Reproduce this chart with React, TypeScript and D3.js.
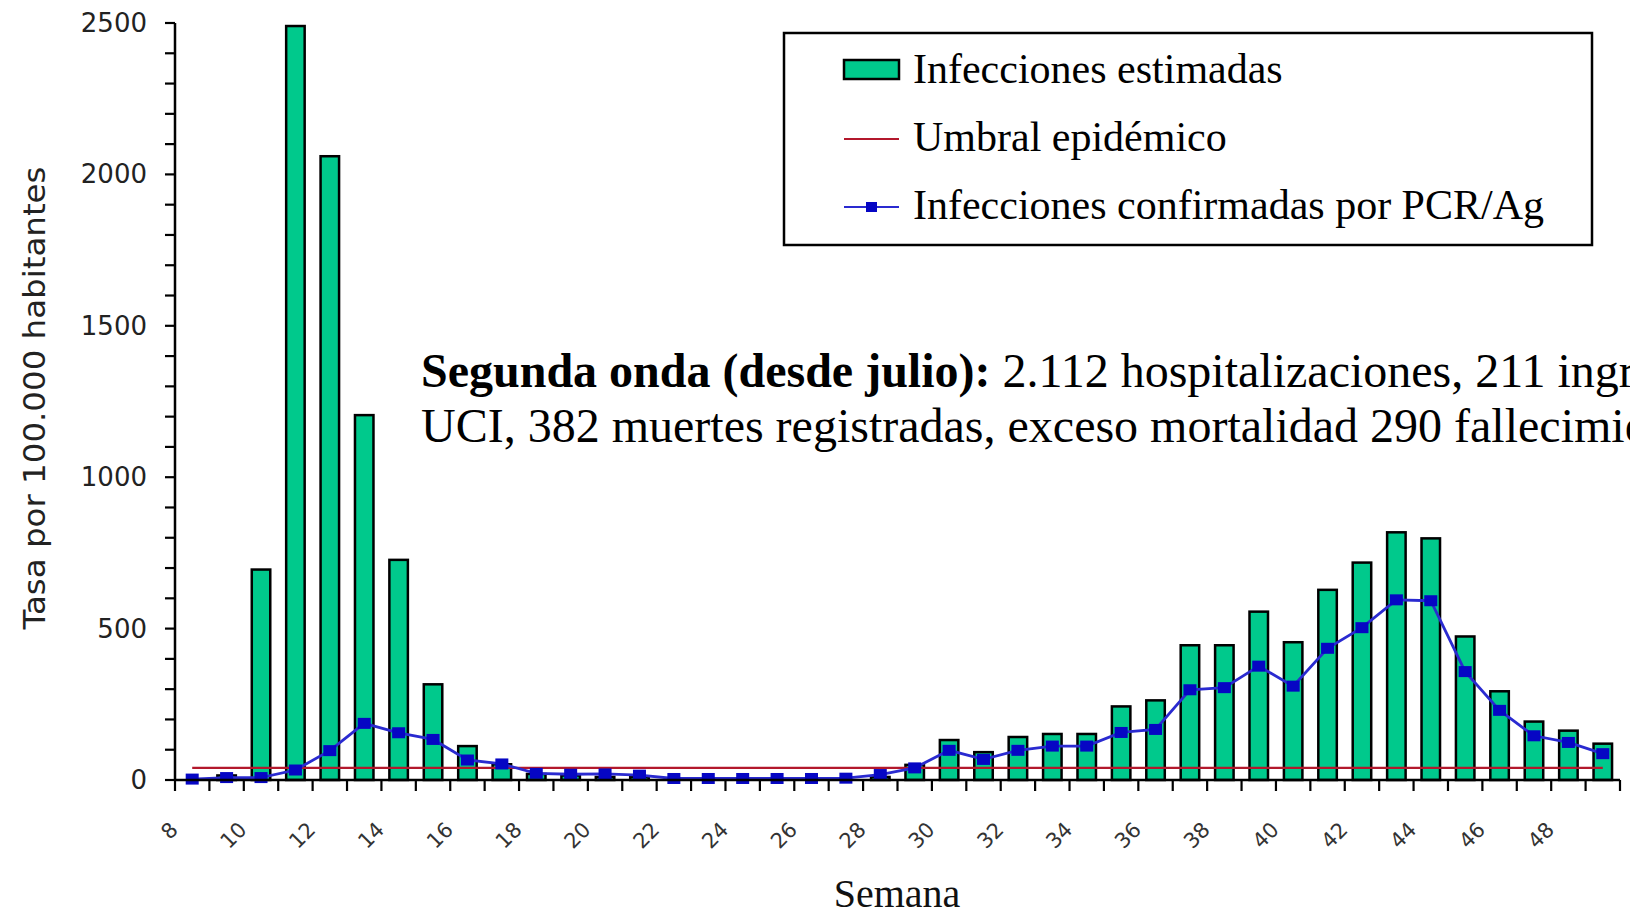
import React from "react";
import * as d3 from "d3";

const weeks = [8, 9, 10, 11, 12, 13, 14, 15, 16, 17, 18, 19, 20, 21, 22, 23, 24, 25, 26, 27, 28, 29, 30, 31, 32, 33, 34, 35, 36, 37, 38, 39, 40, 41, 42, 43, 44, 45, 46, 47, 48, 49];

const estimadas = [0, 15, 695, 2490, 2060, 1205, 727, 316, 112, 52, 20, 15, 10, 10, 0, 0, 0, 0, 0, 0, 10, 50, 132, 92, 142, 152, 152, 243, 263, 445, 445, 556, 455, 628, 718, 818, 798, 474, 293, 193, 163, 120];

const confirmadas = [3, 8, 8, 33, 97, 187, 156, 134, 66, 53, 22, 19, 20, 16, 5, 5, 5, 5, 5, 6, 18, 40, 98, 68, 98, 112, 112, 157, 167, 298, 305, 376, 310, 435, 503, 595, 592, 358, 230, 146, 124, 87];

const umbral = 40;

const yTickLabels = [0, 500, 1000, 1500, 2000, 2500];
const xTickLabels = [8, 10, 12, 14, 16, 18, 20, 22, 24, 26, 28, 30, 32, 34, 36, 38, 40, 42, 44, 46, 48];

const legendLabels = ["Infecciones estimadas", "Umbral epidémico", "Infecciones confirmadas por PCR/Ag"];

const GREEN = "#00c98c";
const RED = "#b3182c";
const BLUE_LINE = "#2a2ad0";
const BLUE_MARK = "#0606c4";

export default function App() {
  const W = 1630, H = 918;
  const x = d3.scaleBand<number>().domain(weeks).range([175, 1620]).padding(0);
  const y = d3.scaleLinear().domain([0, 2500]).range([780, 23]);
  const bw = x.bandwidth();
  const cx = (w: number) => (x(w) as number) + bw / 2;
  const barW = 18.5;

  const lineGen = d3.line<number>().x((_, i) => cx(weeks[i])).y((d) => y(d));
  const umbralPath = lineGen(weeks.map(() => umbral)) as string;
  const pcrPath = lineGen(confirmadas) as string;

  const minorTicks = y.ticks(25);
  const boundaries = weeks.map((w) => x(w) as number).concat([x.range()[1]]);

  const sans = "'DejaVu Sans', sans-serif";
  const serif = "'Liberation Serif', 'Times New Roman', serif";

  return (
    <svg width={W} height={H} style={{ position: "absolute", left: 0, top: 0, background: "#fff" }}>
      <rect x={0} y={0} width={W} height={H} fill="#fff" />
      {/* bars */}
      {estimadas.map((v, i) =>
        v > 0 ? (
          <rect key={"b" + i} x={cx(weeks[i]) - barW / 2} y={y(v)} width={barW} height={y(0) - y(v)} fill={GREEN} stroke="#000" strokeWidth={2.5} />
        ) : null
      )}
      {/* umbral */}
      <path d={umbralPath} fill="none" stroke={RED} strokeWidth={2.4} />
      {/* PCR line */}
      <path d={pcrPath} fill="none" stroke={BLUE_LINE} strokeWidth={2.8} />
      {confirmadas.map((v, i) => (
        <rect key={"m" + i} x={cx(weeks[i]) - 6.5} y={y(v) - 5.5} width={13} height={11} fill={BLUE_MARK} />
      ))}
      {/* y axis */}
      <line x1={175} x2={175} y1={y(2500)} y2={y(0) + 1} stroke="#000" strokeWidth={2.5} />
      {minorTicks.map((t) => (
        <line key={"yt" + t} x1={165} x2={175} y1={y(t)} y2={y(t)} stroke="#000" strokeWidth={2.2} />
      ))}
      {yTickLabels.map((t) => (
        <text key={"yl" + t} x={147} y={y(t)} textAnchor="end" dominantBaseline="central" fontFamily={sans} fontSize={26} fill="#222">
          {t}
        </text>
      ))}
      {/* x axis */}
      <line x1={175} x2={1620} y1={780} y2={780} stroke="#000" strokeWidth={2.5} />
      {boundaries.map((b, i) => (
        <line key={"xt" + i} x1={b} x2={b} y1={780} y2={791} stroke="#000" strokeWidth={2.2} />
      ))}
      {xTickLabels.map((w) => (
        <text key={"xl" + w} transform={`translate(${cx(w) - 18},826) rotate(-45)`} textAnchor="end" dominantBaseline="central" fontFamily={sans} fontSize={21} fill="#333">
          {w}
        </text>
      ))}
      {/* axis titles */}
      <text x={897} y={907} textAnchor="middle" fontFamily={serif} fontSize={40} fill="#111">
        Semana
      </text>
      <text transform="translate(34,398) rotate(-90)" textAnchor="middle" dominantBaseline="central" fontFamily={sans} fontSize={30} fill="#222" textLength={463} lengthAdjust="spacingAndGlyphs">
        Tasa por 100.000 habitantes
      </text>
      {/* legend */}
      <rect x={784} y={33} width={808} height={212} fill="#fff" stroke="#000" strokeWidth={2.5} />
      <rect x={844} y={60} width={55} height={19} fill={GREEN} stroke="#000" strokeWidth={2.5} />
      <line x1={844} x2={899} y1={139} y2={139} stroke={RED} strokeWidth={2.2} />
      <line x1={844} x2={899} y1={207} y2={207} stroke={BLUE_LINE} strokeWidth={2.2} />
      <rect x={866} y={202} width={11} height={10} fill={BLUE_MARK} />
      {legendLabels.map((l, i) => (
        <text key={"lg" + i} x={913} y={83 + i * 68} fontFamily={serif} fontSize={42} fill="#000">
          {l}
        </text>
      ))}
      {/* annotation */}
      <text x={421} y={387} fontFamily={serif} fontSize={48} fill="#000">
        <tspan fontWeight="bold">Segunda onda (desde julio):</tspan>
        <tspan> 2.112 hospitalizaciones, 211 ingresos en</tspan>
      </text>
      <text x={421} y={442} fontFamily={serif} fontSize={48} fill="#000">
        UCI, 382 muertes registradas, exceso mortalidad 290 fallecimientos
      </text>
    </svg>
  );
}
